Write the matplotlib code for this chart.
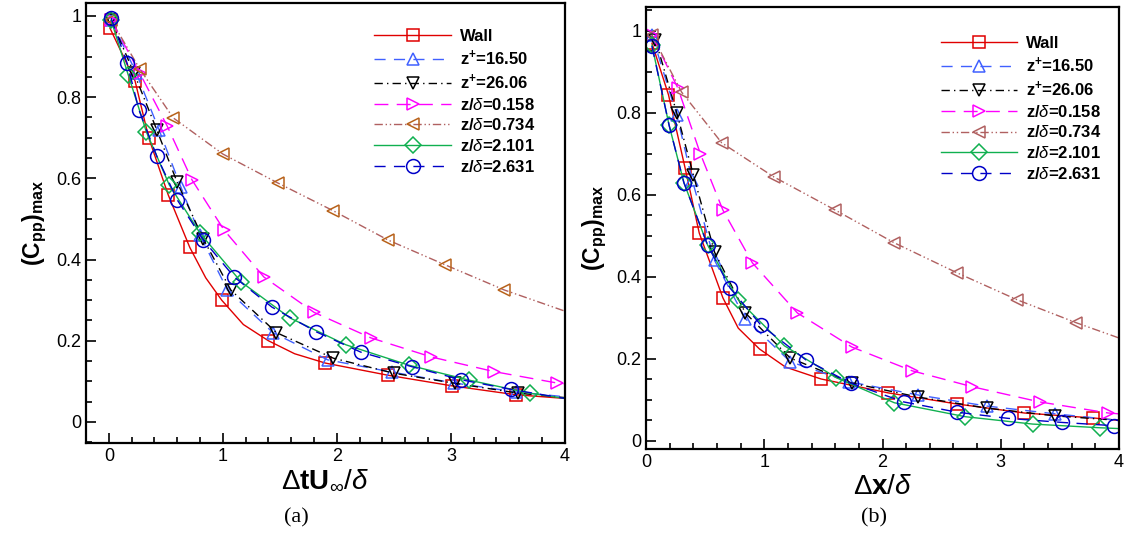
import numpy as np
import matplotlib
matplotlib.use("Agg")
import matplotlib.pyplot as plt
from matplotlib.ticker import MultipleLocator, FuncFormatter

plt.rcParams['font.family'] = ['Liberation Sans', 'DejaVu Sans']
plt.rcParams['mathtext.fontset'] = 'custom'
plt.rcParams['mathtext.rm'] = 'Liberation Sans'
plt.rcParams['mathtext.bf'] = 'Liberation Sans:bold'
plt.rcParams['mathtext.it'] = 'Liberation Sans:italic'

# ---------------------------------------------------------------
# Datos: (a) dominio temporal, (b) espacial
# ---------------------------------------------------------------
labels = ['Wall', r'$\mathbf{z^{+}}$=16.50', r'$\mathbf{z^{+}}$=26.06',
          r'z/$\delta$=0.158', r'z/$\delta$=0.734', r'z/$\delta$=2.101', r'z/$\delta$=2.631']

# panel (a)
a_wall_x = [0.01, 0.23, 0.35, 0.52, 0.71, 0.85, 0.99, 1.18, 1.40, 1.63, 1.90, 2.45, 3.01, 3.57, 4.00]
a_wall_y = [0.97, 0.84, 0.70, 0.56, 0.43, 0.355, 0.30, 0.24, 0.20, 0.168, 0.145, 0.115, 0.089, 0.067, 0.058]
a_wall_m = [0, 1, 2, 3, 4, 6, 8, 10, 11, 12, 13]

a_zp16_x = [0.02, 0.24, 0.44, 0.63, 0.80, 1.04, 1.44, 1.92, 2.48, 3.03, 3.57, 4.00]
a_zp16_y = [0.99, 0.86, 0.72, 0.58, 0.46, 0.325, 0.22, 0.153, 0.123, 0.096, 0.074, 0.062]
a_zp16_m = list(range(11))

a_zp26_x = [0.02, 0.22, 0.42, 0.60, 0.83, 1.07, 1.47, 1.97, 2.50, 3.04, 3.59, 4.00]
a_zp26_y = [0.99, 0.86, 0.72, 0.59, 0.45, 0.325, 0.22, 0.157, 0.12, 0.095, 0.071, 0.06]
a_zp26_m = list(range(11))

a_z158_x = [0.02, 0.27, 0.51, 0.73, 1.01, 1.36, 1.80, 2.30, 2.83, 3.38, 3.93, 4.00]
a_z158_y = [0.99, 0.86, 0.73, 0.596, 0.473, 0.357, 0.27, 0.207, 0.16, 0.124, 0.096, 0.094]
a_z158_m = list(range(11))

a_z734_x = [0.02, 0.27, 0.565, 1.00, 1.48, 1.97, 2.45, 2.95, 3.47, 4.00]
a_z734_y = [0.99, 0.87, 0.749, 0.66, 0.589, 0.52, 0.448, 0.387, 0.325, 0.273]
a_z734_m = list(range(9))

a_z2101_x = [0.02, 0.17, 0.33, 0.53, 0.80, 1.16, 1.59, 2.08, 2.63, 3.16, 3.69, 4.00]
a_z2101_y = [0.99, 0.855, 0.714, 0.584, 0.465, 0.345, 0.256, 0.19, 0.14, 0.103, 0.071, 0.058]
a_z2101_m = list(range(11))

a_z2631_x = [0.02, 0.16, 0.265, 0.42, 0.60, 0.83, 1.10, 1.43, 1.82, 2.21, 2.66, 3.09, 3.53, 4.00]
a_z2631_y = [0.995, 0.884, 0.768, 0.655, 0.547, 0.448, 0.357, 0.283, 0.222, 0.172, 0.136, 0.104, 0.08, 0.058]
a_z2631_m = list(range(13))

# panel (b)
b_wall_x = [0.05, 0.19, 0.33, 0.45, 0.65, 0.78, 0.96, 1.18, 1.48, 2.05, 2.63, 3.20, 3.78, 4.00]
b_wall_y = [0.97, 0.844, 0.666, 0.507, 0.349, 0.275, 0.224, 0.18, 0.151, 0.117, 0.09, 0.068, 0.056, 0.05]
b_wall_m = [0, 1, 2, 3, 4, 6, 8, 9, 10, 11, 12]

b_zp16_x = [0.05, 0.26, 0.39, 0.58, 0.84, 1.22, 1.72, 2.30, 2.88, 3.46, 4.00]
b_zp16_y = [0.99, 0.795, 0.637, 0.44, 0.298, 0.193, 0.144, 0.112, 0.085, 0.066, 0.05]
b_zp16_m = list(range(10))

b_zp26_x = [0.08, 0.26, 0.40, 0.58, 0.84, 1.22, 1.74, 2.30, 2.88, 3.46, 4.00]
b_zp26_y = [0.978, 0.80, 0.649, 0.46, 0.312, 0.202, 0.141, 0.107, 0.08, 0.061, 0.05]
b_zp26_m = list(range(10))

b_z158_x = [0.05, 0.27, 0.46, 0.65, 0.90, 1.28, 1.74, 2.25, 2.76, 3.33, 3.91, 4.00]
b_z158_y = [0.99, 0.86, 0.70, 0.563, 0.434, 0.312, 0.229, 0.171, 0.132, 0.095, 0.068, 0.066]
b_z158_m = list(range(11))

b_z734_x = [0.05, 0.30, 0.64, 1.08, 1.60, 2.10, 2.63, 3.14, 3.64, 4.00]
b_z734_y = [0.99, 0.851, 0.727, 0.644, 0.563, 0.483, 0.41, 0.344, 0.288, 0.251]
b_z734_m = list(range(9))

b_z2101_x = [0.05, 0.195, 0.32, 0.52, 0.78, 1.17, 1.61, 2.10, 2.70, 3.27, 3.84, 4.00]
b_z2101_y = [0.965, 0.77, 0.63, 0.478, 0.344, 0.232, 0.154, 0.093, 0.059, 0.041, 0.032, 0.03]
b_z2101_m = list(range(11))

b_z2631_x = [0.05, 0.195, 0.32, 0.52, 0.71, 0.97, 1.35, 1.73, 2.18, 2.63, 3.06, 3.52, 3.96]
b_z2631_y = [0.963, 0.77, 0.63, 0.478, 0.373, 0.283, 0.198, 0.141, 0.095, 0.07, 0.055, 0.045, 0.037]
b_z2631_m = list(range(13))

series_a = [(a_wall_x, a_wall_y, a_wall_m), (a_zp16_x, a_zp16_y, a_zp16_m),
            (a_zp26_x, a_zp26_y, a_zp26_m), (a_z158_x, a_z158_y, a_z158_m),
            (a_z734_x, a_z734_y, a_z734_m), (a_z2101_x, a_z2101_y, a_z2101_m),
            (a_z2631_x, a_z2631_y, a_z2631_m)]
series_b = [(b_wall_x, b_wall_y, b_wall_m), (b_zp16_x, b_zp16_y, b_zp16_m),
            (b_zp26_x, b_zp26_y, b_zp26_m), (b_z158_x, b_z158_y, b_z158_m),
            (b_z734_x, b_z734_y, b_z734_m), (b_z2101_x, b_z2101_y, b_z2101_m),
            (b_z2631_x, b_z2631_y, b_z2631_m)]

# estilos tipo Tecplot
colores = ['#e00000', '#4060ff', 'black', '#ff00ff', '#b06060', '#10b050', '#0000c8']
marcas = ['s', '^', 'v', '>', '<', 'D', 'o']
tamanos = [8.5, 9, 9, 9, 9, 8, 10]
trazos = [(None, None), (8, 6), (6, 3, 1, 3), (10, 6), (6, 2, 1, 2, 1, 2), (None, None), (8, 6)]


def dibujar(ax, series, brown_marker):
    for i, (x, y, m) in enumerate(series):
        mec = brown_marker if i == 4 else colores[i]
        ln, = ax.plot(x, y, color=colores[i], lw=1.0, marker=marcas[i], ms=tamanos[i],
                      mfc='none', mec=mec, mew=1.1, markevery=m, label=labels[i])
        if trazos[i][0] is not None:
            ln.set_dashes(trazos[i])


def formato(ax, xlim, ylim):
    ax.set_xlim(*xlim)
    ax.set_ylim(*ylim)
    ax.xaxis.set_major_locator(MultipleLocator(1))
    ax.xaxis.set_minor_locator(MultipleLocator(0.2))
    ax.yaxis.set_major_locator(MultipleLocator(0.2))
    ax.yaxis.set_minor_locator(MultipleLocator(0.05))
    fmt = FuncFormatter(lambda v, p: '%g' % round(v, 3))
    ax.xaxis.set_major_formatter(fmt)
    ax.yaxis.set_major_formatter(fmt)
    ax.tick_params(which='both', direction='in', top=False, right=False, labelsize=13, width=1.2)
    ax.tick_params(which='major', length=7)
    ax.tick_params(which='minor', length=4)
    for s in ax.spines.values():
        s.set_linewidth(1.6)
    ax.set_ylabel(r'$\mathbf{(C_{pp})_{max}}$', fontsize=16.5, labelpad=5)


fig = plt.figure(figsize=(11.32, 5.47), dpi=100)
ax1 = fig.add_axes([0.076, 0.190, 0.423, 0.8045])
ax2 = fig.add_axes([0.5707, 0.179, 0.4178, 0.808])

dibujar(ax1, series_a, '#b8621b')
formato(ax1, (-0.2, 4.0), (-0.052, 1.032))
ax1.set_xlabel(r'$\Delta\mathbf{tU}_{\infty}/\delta$', fontsize=20, labelpad=2)

dibujar(ax2, series_b, '#b06060')
formato(ax2, (0.0, 4.0), (-0.02, 1.058))
ax2.set_xlabel(r'$\Delta\mathbf{x}/\delta$', fontsize=20, labelpad=2)

for ax, bx, by in [(ax1, 0.585, 0.960), (ax2, 0.605, 0.953)]:
    ax.legend(loc='upper left', bbox_to_anchor=(bx, by), frameon=False, numpoints=1,
              handlelength=4.6, handletextpad=0.55, labelspacing=0.28, borderpad=0,
              prop={'weight': 'bold', 'size': 12})

fig.text(0.262, 0.045, '(a)', family='Liberation Serif', fontsize=16, ha='center')
fig.text(0.772, 0.045, '(b)', family='Liberation Serif', fontsize=16, ha='center')

fig.savefig('out.png', dpi=100)
plt.close(fig)
